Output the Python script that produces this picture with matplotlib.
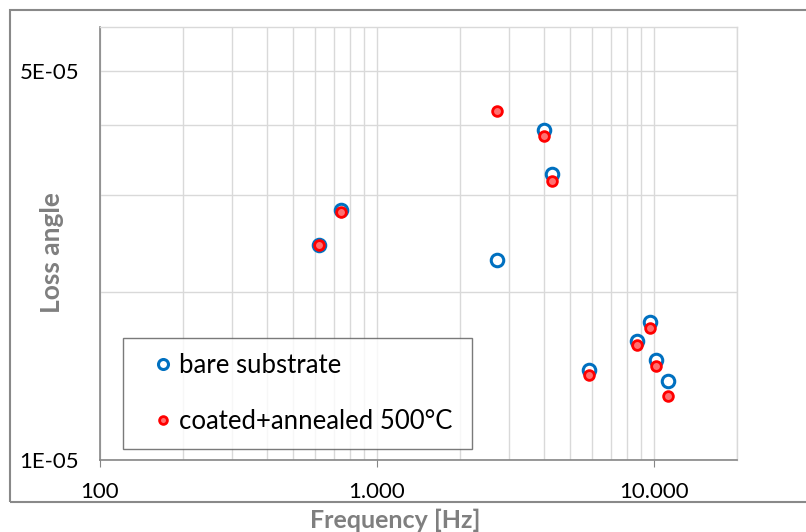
import matplotlib
matplotlib.use('Agg')
import matplotlib.pyplot as plt
from matplotlib.ticker import FixedLocator, NullFormatter
from matplotlib.patches import Rectangle

plt.rcParams['font.family'] = ['Lato', 'DejaVu Sans']

# data
freq = [617, 741, 2720, 4030, 4293, 5840, 8681, 9695, 10185, 11300]
bare = [2.436e-5, 2.808e-5, 2.289e-5, 3.911e-5, 3.268e-5,
        1.450e-5, 1.639e-5, 1.771e-5, 1.513e-5, 1.385e-5]
coated = [2.436e-5, 2.793e-5, 4.244e-5, 3.825e-5, 3.176e-5,
          1.424e-5, 1.612e-5, 1.727e-5, 1.478e-5, 1.303e-5]

x_ticks = [100, 1000, 10000]
x_labels = ['100', '1.000', '10.000']
y_ticks = [1e-5, 5e-5]
y_labels = ['1E-05', '5E-05']
y_grid = [2e-5, 3e-5, 4e-5]

grid_c = '#d9d9d9'
axis_c = '#868686'

fig = plt.figure(figsize=(8.06, 5.32), dpi=100)
ax = fig.add_axes([100/806, 72/532, 637/806, 433/532])

ax.set_xscale('log')
ax.set_yscale('log')
ax.set_xlim(100, 20000)
ax.set_ylim(1e-5, 6e-5)

ax.xaxis.set_major_locator(FixedLocator(x_ticks))
ax.set_xticklabels(x_labels)
ax.xaxis.set_minor_formatter(NullFormatter())
ax.yaxis.set_major_locator(FixedLocator(y_ticks))
ax.set_yticklabels(y_labels)
ax.yaxis.set_minor_locator(FixedLocator(y_grid))
ax.yaxis.set_minor_formatter(NullFormatter())

ax.grid(True, which='both', color=grid_c, linewidth=1)
ax.set_axisbelow(True)

ax.tick_params(axis='x', which='major', length=5, color=axis_c, pad=11,
               labelsize=16, labelcolor='black')
ax.tick_params(axis='x', which='minor', length=0)
ax.tick_params(axis='y', which='both', length=0, pad=15, labelsize=16,
               labelcolor='black')

for s in ['left', 'bottom']:
    ax.spines[s].set_color(axis_c)
    ax.spines[s].set_linewidth(1.2)
for s in ['top', 'right']:
    ax.spines[s].set_color(grid_c)
    ax.spines[s].set_linewidth(1)

ax.plot(freq, bare, 'o', linestyle='none', markersize=9, markeredgewidth=2.2,
        markeredgecolor='#0070c0', markerfacecolor='white',
        label='bare substrate', zorder=3)
ax.plot(freq, coated, 'o', linestyle='none', markersize=7, markeredgewidth=2,
        markeredgecolor='#ff0000', markerfacecolor='#ff7070',
        label='coated+annealed 500°C', zorder=4)

leg = ax.legend(loc='lower left', bbox_to_anchor=(0.036, 0.025, 0.548, 0.261),
                mode='expand', fontsize=18.5, frameon=True, fancybox=False,
                edgecolor='#595959', borderpad=0.6, labelspacing=1.2,
                handlelength=1.9, handletextpad=-0.3, borderaxespad=0,
                markerscale=0.8)
leg.get_frame().set_linewidth(1)
for t in leg.get_texts():
    t.set_color('black')

# outer chart frame
fig.patches.append(Rectangle((10/806, 30/532), 1.0, 492/532, transform=fig.transFigure,
                             fill=False, edgecolor='#898989', linewidth=1.5))

fig.text(395/806, 12/532, 'Frequency [Hz]', ha='center', va='center',
         fontsize=18, fontweight='bold', color='#7f7f7f')
fig.text(52/806, 1 - 253/532, 'Loss angle', ha='center', va='center',
         rotation=90, fontsize=19, fontweight='bold', color='#7f7f7f')

fig.savefig('out.png', dpi=100)
